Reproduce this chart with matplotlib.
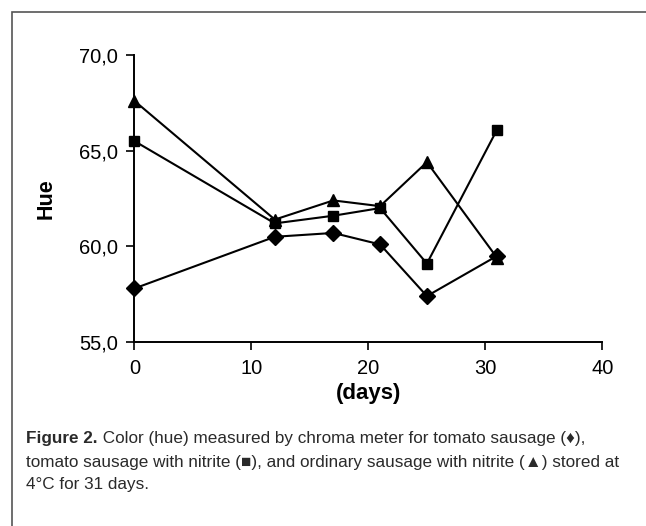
import matplotlib.pyplot as plt
from matplotlib.patches import Rectangle

# data
days = [0, 12, 17, 21, 25, 31]
tomato = [57.8, 60.5, 60.7, 60.1, 57.4, 59.5]
tomato_nitrite = [65.5, 61.2, 61.6, 62.0, 59.1, 66.1]
ordinary_nitrite = [67.6, 61.4, 62.4, 62.1, 64.4, 59.4]

xticks = [0, 10, 20, 30, 40]
yticks = [55, 60, 65, 70]
ytick_labels = ['55,0', '60,0', '65,0', '70,0']

caption_bold = 'Figure 2.'
caption_lines = [
    ' Color (hue) measured by chroma meter for tomato sausage (\u2666),',
    'tomato sausage with nitrite (\u25a0), and ordinary sausage with nitrite (\u25b2) stored at',
    '4°C for 31 days.',
]

plt.rcParams['font.family'] = ['Liberation Sans', 'DejaVu Sans']

fig = plt.figure(figsize=(6.46, 5.26), dpi=100)

# frame round the whole figure (only left/top visible)
fig.patches.append(Rectangle((11.5 / 646, -0.1), 1.2, 1.1 - 12 / 526,
                             transform=fig.transFigure, fill=False,
                             edgecolor='#555555', linewidth=1.2))

ax = fig.add_axes([0.2082, 0.3498, 0.7242, 0.5456])
ax.plot(days, tomato, color='black', lw=1.5, marker='D', ms=8.5, clip_on=False)
ax.plot(days, tomato_nitrite, color='black', lw=1.5, marker='s', ms=6.5, clip_on=False)
ax.plot(days, ordinary_nitrite, color='black', lw=1.5, marker='^', ms=9, clip_on=False)

ax.set_xlim(0, 40)
ax.set_ylim(55, 70)
ax.set_xticks(xticks)
ax.set_yticks(yticks)
ax.set_yticklabels(ytick_labels)
ax.tick_params(direction='out', length=6, width=1.2, labelsize=14.5, pad=6)
for side in ['top', 'right']:
    ax.spines[side].set_visible(False)
for side in ['left', 'bottom']:
    ax.spines[side].set_linewidth(1.4)

ax.set_ylabel('Hue', fontsize=15.5, fontweight='bold', labelpad=16)
ax.set_xlabel('(days)', fontsize=16, fontweight='bold', labelpad=4)

# caption
cap_kw = dict(fontsize=12.3, color='#2a2a2a', va='center')
x0 = 26 / 646
t = fig.text(x0, 1 - 439 / 526, caption_bold, fontweight='bold', **cap_kw)
renderer = fig.canvas.get_renderer()
bb = t.get_window_extent(renderer).transformed(fig.transFigure.inverted())
fig.text(bb.x1, 1 - 439 / 526, caption_lines[0], **cap_kw)
fig.text(x0, 1 - 462 / 526, caption_lines[1], **cap_kw)
fig.text(x0, 1 - 485 / 526, caption_lines[2], **cap_kw)

fig.savefig('out.png', dpi=100)
